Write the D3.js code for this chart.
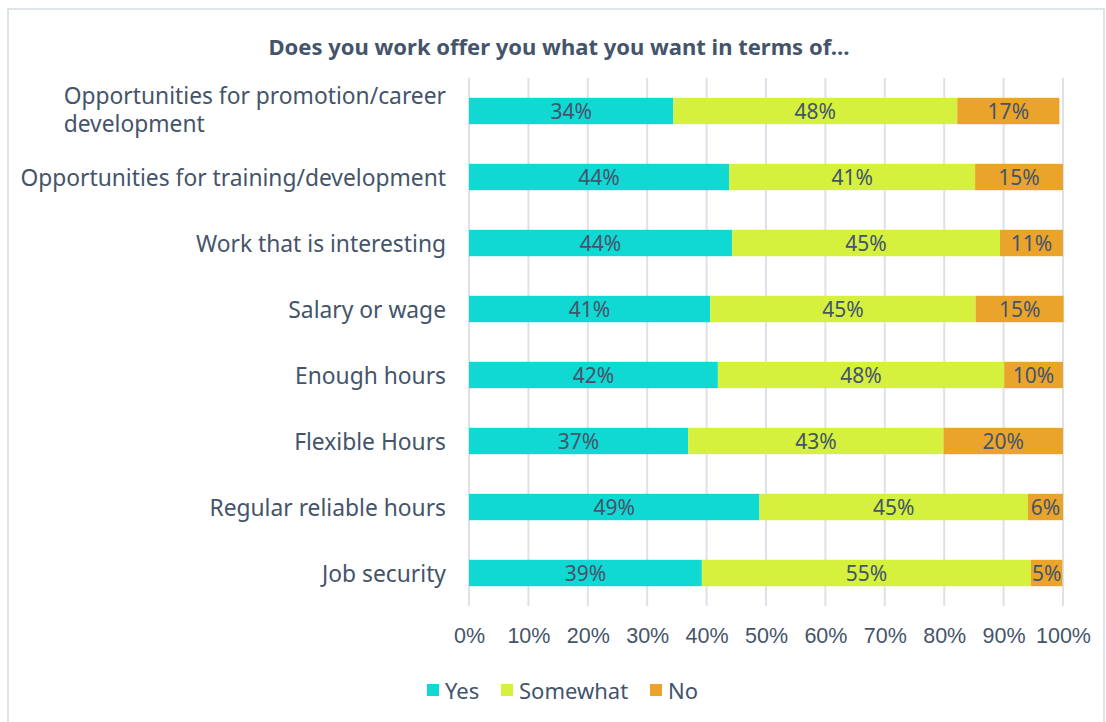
<!DOCTYPE html>
<html>
<head>
<meta charset="utf-8">
<script src="https://cdn.jsdelivr.net/npm/d3@7"></script>
<style>
  html, body { margin: 0; padding: 0; background: #ffffff; }
  svg { display: block; font-family: "Noto Sans", "DejaVu Sans", sans-serif; }
</style>
</head>
<body>
<svg id="chart" width="1106" height="722"></svg>
<script>
// Survey categories, top to bottom
const categories = [
  "Opportunities for promotion/career development",
  "Opportunities for training/development",
  "Work that is interesting",
  "Salary or wage",
  "Enough hours",
  "Flexible Hours",
  "Regular reliable hours",
  "Job security"
];

// Share of respondents (%) per answer
const yesValues      = [34.4, 43.8, 44.3, 40.6, 41.9, 36.9, 48.9, 39.2];
const somewhatValues = [47.8, 41.4, 45.1, 44.7, 48.2, 43.0, 45.2, 55.4];
const noValues       = [17.2, 14.8, 10.6, 14.8,  9.9, 20.1,  5.9,  5.3];

const seriesNames = ["Yes", "Somewhat", "No"];
const seriesColors = ["#10d8d3", "#d5f03d", "#eba42b"];
const xTicks = [0, 10, 20, 30, 40, 50, 60, 70, 80, 90, 100];
const chartTitle = "Does you work offer you what you want in terms of\u2026";

const textColor = "#44546a";
const gridColor = "#dde1e8";

const rows = categories.map((c, i) => ({
  category: c, Yes: yesValues[i], Somewhat: somewhatValues[i], No: noValues[i]
}));

const svg = d3.select("#chart");
const W = 1106, H = 722;
const margin = { left: 469, right: 43, top: 78, bottom: 116 };

// Outer frame
svg.append("rect")
  .attr("x", 8).attr("y", 9)
  .attr("width", 1096).attr("height", H + 10)
  .attr("fill", "#ffffff")
  .attr("stroke", "#dfe3ea").attr("stroke-width", 2);

const x = d3.scaleLinear().domain([0, 100]).range([margin.left, W - margin.right]);
const y = d3.scaleBand().domain(categories).range([margin.top, H - margin.bottom]).paddingInner(0.6).paddingOuter(0.3);

// Title
svg.append("text")
  .attr("x", 559).attr("y", 46)
  .attr("text-anchor", "middle").attr("dominant-baseline", "central")
  .attr("font-size", 22).attr("font-weight", "bold")
  .attr("fill", textColor)
  .text(chartTitle);

// Vertical gridlines
svg.append("g")
  .selectAll("line")
  .data(xTicks)
  .join("line")
  .attr("x1", d => x(d)).attr("x2", d => x(d))
  .attr("y1", margin.top).attr("y2", H - margin.bottom)
  .attr("stroke", gridColor).attr("stroke-width", 2);

// X axis tick labels
const xAxis = d3.axisBottom(x).tickValues(xTicks).tickFormat(d => d + "%").tickSize(0).tickPadding(0);
const xg = svg.append("g").attr("transform", `translate(0,${H - margin.bottom})`).call(xAxis);
xg.select(".domain").remove();
xg.selectAll("text")
  .attr("y", 30).attr("dy", null)
  .attr("dominant-baseline", "central")
  .attr("font-size", 21.5).attr("fill", textColor)
  .attr("font-family", null);

// Stacked bars
const stack = d3.stack().keys(seriesNames);
const stacked = stack(rows);
const color = d3.scaleOrdinal().domain(seriesNames).range(seriesColors);
const fmt = d3.format(".0f");

const layers = svg.append("g").selectAll("g")
  .data(stacked)
  .join("g")
  .attr("fill", d => color(d.key));

layers.selectAll("rect")
  .data(d => d)
  .join("rect")
  .attr("x", d => x(d[0]))
  .attr("y", d => y(d.data.category))
  .attr("width", d => x(d[1]) - x(d[0]))
  .attr("height", y.bandwidth());

layers.selectAll("text")
  .data(d => d.map(p => ({ p, key: d.key })))
  .join("text")
  .attr("x", d => (x(d.p[0]) + x(d.p[1])) / 2)
  .attr("y", d => y(d.p.data.category) + y.bandwidth() / 2)
  .attr("text-anchor", "middle").attr("dominant-baseline", "central")
  .attr("font-size", 21).attr("fill", textColor)
  .text(d => fmt(d.p[1] - d.p[0]) + "%");

// Category labels (long labels wrap onto two lines, left-aligned as a block)
const labelX = 446;
const maxLabelWidth = 440;
const catSize = 22.8;
const catG = svg.append("g");
categories.forEach(c => {
  const cy = y(c) + y.bandwidth() / 2;
  const t = catG.append("text")
    .attr("x", labelX).attr("y", cy)
    .attr("text-anchor", "end").attr("dominant-baseline", "central")
    .attr("font-size", catSize).attr("fill", textColor)
    .text(c);
  if (t.node().getComputedTextLength() > maxLabelWidth) {
    const words = c.split(" ");
    const second = words.pop();
    const first = words.join(" ");
    t.text(first).attr("y", cy - 16);
    const left = labelX - t.node().getComputedTextLength();
    catG.append("text")
      .attr("x", left).attr("y", cy + 12)
      .attr("text-anchor", "start").attr("dominant-baseline", "central")
      .attr("font-size", catSize).attr("fill", textColor)
      .text(second);
  }
});

// Legend
const legendItems = [
  { name: "Yes", sx: 427 },
  { name: "Somewhat", sx: 501 },
  { name: "No", sx: 650 }
];
const lg = svg.append("g");
legendItems.forEach(it => {
  lg.append("rect")
    .attr("x", it.sx).attr("y", 684)
    .attr("width", 12).attr("height", 12)
    .attr("fill", color(it.name));
  lg.append("text")
    .attr("x", it.sx + 18).attr("y", 690)
    .attr("dominant-baseline", "central")
    .attr("font-size", 22).attr("fill", textColor)
    .text(it.name);
});
</script>
</body>
</html>
